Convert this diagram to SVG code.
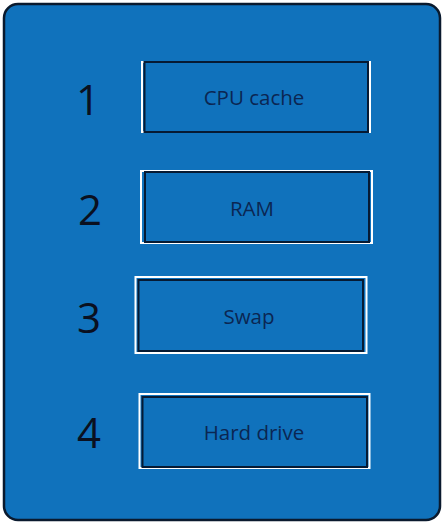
<svg xmlns="http://www.w3.org/2000/svg" width="444" height="524" viewBox="0 0 444 524">
<style>
.bg{fill:#1072bc;stroke:#0a1a2e;stroke-width:2.5}
.wh{fill:none;stroke:#ffffff;stroke-width:2}
.bx{fill:#1072bc;stroke:#061a33;stroke-width:2}
.lbl{font-family:"Open Sans","Noto Sans",sans-serif;font-size:20.5px;fill:#0b2652;text-anchor:middle}
.num{font-family:"Open Sans","Noto Sans",sans-serif;font-size:42px;fill:#0a1020;text-anchor:middle}
</style>
<rect class="bg" x="4" y="4" width="436" height="516" rx="14"/>
<g id="connectors"/>
<g id="n1">
<rect class="wh" x="142" y="62" width="228" height="70"/>
<rect class="bx" x="144.5" y="62" width="223.5" height="70"/>
<text class="num" x="88" y="115">1</text>
<text class="lbl" x="254" y="105">CPU cache</text>
</g>
<g id="n2">
<rect class="wh" x="141" y="171" width="231" height="72"/>
<rect class="bx" x="145" y="172" width="224" height="70"/>
<text class="num" x="90" y="225">2</text>
<text class="lbl" x="252" y="216">RAM</text>
</g>
<g id="n3">
<rect class="wh" x="135.5" y="277" width="231" height="76"/>
<rect class="bx" x="138.5" y="280" width="224.5" height="71"/>
<text class="num" x="89" y="333">3</text>
<text class="lbl" x="249" y="324">Swap</text>
</g>
<g id="n4">
<rect class="wh" x="139.5" y="394" width="230" height="74"/>
<rect class="bx" x="142.5" y="397" width="224.5" height="70"/>
<text class="num" x="89" y="448">4</text>
<text class="lbl" x="254" y="440">Hard drive</text>
</g>
</svg>
